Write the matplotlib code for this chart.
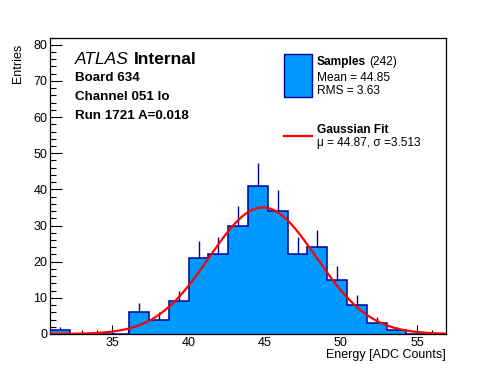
import numpy as np
import matplotlib
matplotlib.use('Agg')
import matplotlib.pyplot as plt
from matplotlib.patches import Rectangle
from matplotlib.ticker import MultipleLocator

# histogram: 20 bins of 1.3 ADC counts from 30.9 to 56.9
x_lo = 30.9
x_hi = 56.9
n_bins = 20
counts = [1, 0, 0, 0, 6, 4, 9, 21, 22, 30, 41, 34, 22, 24, 15, 8, 3, 1, 0, 0]

# gaussian fit shown in the legend
fit_mu = 44.87
fit_sigma = 3.513
fit_amp = 35.0

W, H = 496, 372
FILL = '#0099ff'
EDGE = '#000099'
plt.rcParams['font.family'] = ['Liberation Sans', 'DejaVu Sans']


def fx(x):
    return x / W


def fy(y):
    return 1 - y / H


fig = plt.figure(figsize=(W / 100, H / 100), dpi=100)
ax = fig.add_axes([fx(50), fy(334), (446 - 50) / W, (334 - 37.5) / H])

edges = np.linspace(x_lo, x_hi, n_bins + 1)
counts = np.array(counts, dtype=float)
centers = 0.5 * (edges[:-1] + edges[1:])

ax.stairs(counts, edges, fill=True, color=FILL, zorder=2)
ax.stairs(counts, edges, color=EDGE, lw=1.1, zorder=3)
nz = counts > 0
ax.vlines(centers[nz], counts[nz], counts[nz] + np.sqrt(counts[nz]),
          color=EDGE, lw=1.0, zorder=3)

xs = np.linspace(x_lo, x_hi, 400)
ax.plot(xs, fit_amp * np.exp(-0.5 * ((xs - fit_mu) / fit_sigma) ** 2),
        color='#ff0000', lw=1.6, zorder=4)

ax.set_xlim(x_lo, x_hi)
ax.set_ylim(0, 82)
ax.xaxis.set_major_locator(MultipleLocator(5))
ax.xaxis.set_minor_locator(MultipleLocator(1))
ax.yaxis.set_major_locator(MultipleLocator(10))
ax.yaxis.set_minor_locator(MultipleLocator(2))
ax.tick_params(axis='both', which='both', direction='in', width=0.8,
               labelsize=9, top=False, right=False)
ax.tick_params(axis='x', which='major', length=6.5, pad=2.5)
ax.tick_params(axis='x', which='minor', length=3.2)
ax.tick_params(axis='y', which='major', length=8.5, pad=2)
ax.tick_params(axis='y', which='minor', length=4.3)
for s in ax.spines.values():
    s.set_linewidth(0.9)

fig.text(fx(446), fy(358), 'Energy [ADC Counts]', ha='right', va='baseline', fontsize=9)
fig.text(fx(18), fy(44), 'Entries', rotation=90, ha='center', va='top', fontsize=9)

# ATLAS label block
fig.text(fx(75), fy(63.5), 'ATLAS', style='italic', fontsize=12.5, va='baseline')
fig.text(fx(134), fy(63.5), 'Internal', weight='bold', fontsize=12.5, va='baseline')
for txt, yb in [('Board 634', 81), ('Channel 051 lo', 100), ('Run 1721 A=0.018', 119)]:
    fig.text(fx(75), fy(yb), txt, weight='bold', fontsize=9.6, va='baseline')

# legend
fig.patches.append(Rectangle((fx(283.5), fy(96.5)), (311.5 - 283.5) / W, (96.5 - 53.5) / H,
                             transform=fig.transFigure, facecolor=FILL, edgecolor=EDGE,
                             lw=1.0, figure=fig))
fig.text(fx(317), fy(65), 'Samples', weight='bold', fontsize=8.6, va='baseline')
fig.text(fx(369.5), fy(65), '(242)', fontsize=8.6, va='baseline')
fig.text(fx(317), fy(81), 'Mean = 44.85', fontsize=8.6, va='baseline')
fig.text(fx(317), fy(94), 'RMS = 3.63', fontsize=8.6, va='baseline')
fig.lines.append(plt.Line2D([fx(283.5), fx(311.5)], [fy(136), fy(136)],
                            transform=fig.transFigure, color='#ff0000', lw=1.6))
fig.text(fx(317), fy(133), 'Gaussian Fit', weight='bold', fontsize=8.6, va='baseline')
fig.text(fx(317), fy(146), '\u03bc = 44.87, \u03c3 =3.513', fontsize=8.6, va='baseline')

fig.savefig('out.png', dpi=100)
